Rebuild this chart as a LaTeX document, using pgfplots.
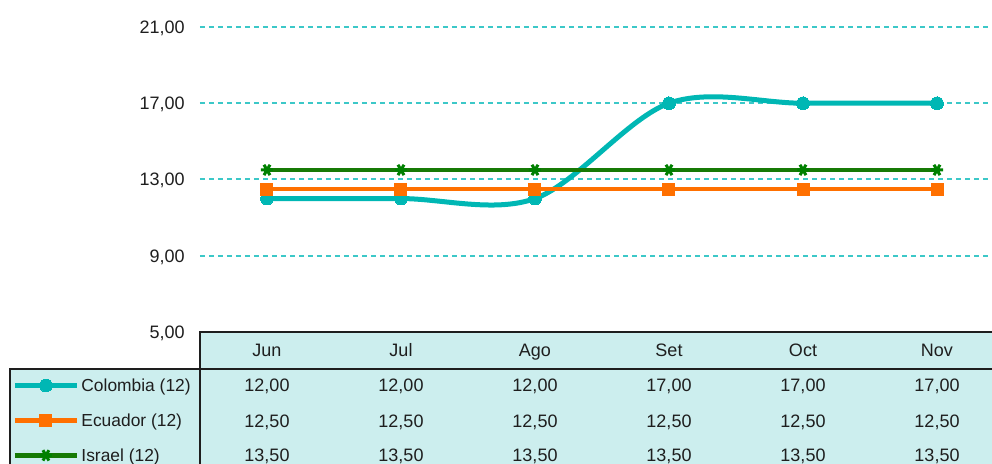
\documentclass[border=0pt]{standalone}
\usepackage{pgfplots}
\pgfplotsset{compat=1.18}
\usepackage{fontspec}
\setmainfont{Liberation Sans}
\definecolor{cteal}{RGB}{0,183,180}
\definecolor{corange}{RGB}{255,112,0}
\definecolor{cgreen}{RGB}{22,122,5}
\definecolor{cgrid}{RGB}{60,200,200}
\definecolor{cfill}{RGB}{204,238,238}
\definecolor{ctext}{RGB}{30,30,30}
\begin{document}
\fontsize{9pt}{11pt}\selectfont
\begin{tikzpicture}
\path[use as bounding box] (0,0) rectangle (496pt,-232pt);
\clip (0,0) rectangle (496pt,-232pt);
% table background
\fill[cfill] (100pt,-166pt) rectangle (510pt,-184.5pt);
\fill[cfill] (5pt,-184.5pt) rectangle (510pt,-240pt);
\begin{axis}[
  at={(100pt,-166pt)}, anchor=south west, scale only axis,
  width=402pt, height=152.5pt,
  xmin=-0.5, xmax=5.5, ymin=5, ymax=21,
  axis line style={draw=none}, major tick length=0pt,
  xtick={0,...,5}, xticklabels={Jun,Jul,Ago,Set,Oct,Nov},
  every tick label/.append style={font=\fontsize{9pt}{11pt}\selectfont, text=ctext},
  xticklabel style={anchor=center, yshift=-9pt, inner sep=0pt, text height=6.4pt, text depth=0pt},
  ytick={5,9,13,17,21},
  yticklabel style={anchor=east, inner sep=0pt, xshift=-7.5pt, text height=6.4pt, text depth=0pt,
    /pgf/number format/fixed, /pgf/number format/fixed zerofill, /pgf/number format/precision=2,
    /pgf/number format/use comma, /pgf/number format/assume math mode=true},
  ymajorgrids, xmajorgrids=false,
  grid style={cgrid, dash pattern=on 2.5pt off 2pt, line width=1pt},
  major grid style={cgrid, dash pattern=on 2.5pt off 2pt, line width=1pt},
  y grid style={cgrid, dash pattern=on 2.5pt off 2pt, line width=1pt},
  legend style={at={(-0.2338,-0.1528)}, anchor=north west, draw=none, fill=none,
    inner sep=0pt, row sep=11.1pt, column sep=1pt,
    nodes={inner sep=0pt, anchor=west, text height=6.4pt, text depth=0pt,
      font=\fontsize{8.7pt}{11pt}\selectfont, text=ctext}},
  legend cell align=left,
  legend image code/.code={\draw[mark repeat=2,mark phase=2,#1] plot coordinates {(0pt,0pt) (15.5pt,0pt) (31pt,0pt)};},
]
\addplot[cteal, line width=2.5pt, smooth, tension=0.55, mark=*, mark size=3.2pt,
  mark options={solid, fill=cteal, draw=cteal, line width=0pt}]
  coordinates {(0,12) (1,12) (2,12) (3,17) (4,17) (5,17)};
\addlegendentry{Colombia (12)}
\addplot[corange, line width=2.1pt, mark=square*, mark size=3pt,
  mark options={solid, fill=corange, draw=corange, line width=0pt}]
  coordinates {(0,12.5) (1,12.5) (2,12.5) (3,12.5) (4,12.5) (5,12.5)};
\addlegendentry{Ecuador (12)}
\addplot[cgreen, line width=2.1pt, mark=asterisk, mark size=3pt,
  mark options={solid, rotate=90, draw=green!50!black, line width=1.5pt}]
  coordinates {(0,13.5) (1,13.5) (2,13.5) (3,13.5) (4,13.5) (5,13.5)};
\addlegendentry{Israel (12)}
\end{axis}
% table borders
\draw[ctext, line width=1.4pt] (100pt,-240pt) -- (100pt,-166pt) -- (510pt,-166pt);
\draw[ctext, line width=1.4pt] (5pt,-240pt) -- (5pt,-184.5pt) -- (510pt,-184.5pt);
% table values
\foreach \i/\a/\b/\c in {0/{12,00}/{12,50}/{13,50}, 1/{12,00}/{12,50}/{13,50}, 2/{12,00}/{12,50}/{13,50}, 3/{17,00}/{12,50}/{13,50}, 4/{17,00}/{12,50}/{13,50}, 5/{17,00}/{12,50}/{13,50}} {
  \pgfmathsetmacro{\xx}{133.5+67*\i}
  \node[text=ctext, inner sep=0pt, text height=6.4pt, text depth=0pt] at (\xx pt,-192.5pt) {\a};
  \node[text=ctext, inner sep=0pt, text height=6.4pt, text depth=0pt] at (\xx pt,-210.5pt) {\b};
  \node[text=ctext, inner sep=0pt, text height=6.4pt, text depth=0pt] at (\xx pt,-227.5pt) {\c};
}
\end{tikzpicture}
\end{document}
